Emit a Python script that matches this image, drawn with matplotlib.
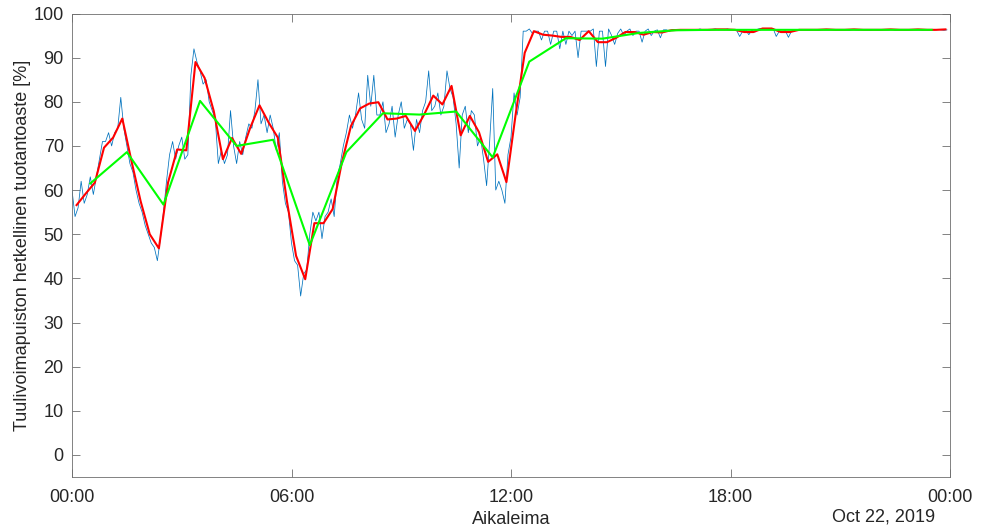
import numpy as np
import pandas as pd
import matplotlib
matplotlib.use("Agg")
import matplotlib.pyplot as plt

plt.rcParams["font.family"] = ["Liberation Sans", "DejaVu Sans"]

# Instantaneous production ratio, 5-minute samples (one row per hour)
blue_rows = [
    [60, 54, 56, 62, 57, 59, 63, 59, 63, 67, 71, 71],
    [73, 70, 73, 74, 81, 74, 70, 66, 64, 60, 57, 55],
    [52, 50, 48, 47, 44, 49, 55, 62, 68, 71, 67, 70],
    [72, 67, 68, 86, 92, 89, 87, 84, 85, 80, 78, 76],
    [66, 69, 66, 68, 78, 70, 66, 71, 68, 72, 75, 74],
    [78, 85, 75, 77, 73, 77, 74, 69, 73, 62, 57, 55],
    [48, 44, 43, 36, 41, 42, 50, 55, 53, 55, 49, 54],
    [55, 58, 54, 63, 66, 70, 73, 77, 74, 77, 82, 76],
    [74, 86, 79, 86, 77, 77, 80, 73, 75, 79, 72, 77],
    [80, 74, 76, 75, 69, 76, 73, 78, 80, 87, 78, 79],
    [82, 77, 79, 87, 83, 81, 75, 65, 77, 79, 73, 78],
    [77, 70, 72, 67, 61, 71, 83, 60, 62, 60, 57, 68],
    [72, 82, 77, 81, 96, 96, 96.5, 95.5, 96, 96, 94, 96],
    [96, 93, 96, 96, 92, 96, 93, 96, 95, 96, 90, 96],
    [96, 96, 96, 96.5, 88, 96, 96, 88, 96.5, 95, 93, 95.5],
    [96.5, 95, 96, 96.5, 95, 96, 96, 93.5, 96, 96.5, 95, 96],
    [96.3, 94.5, 96.3, 96.3, 96.0, 96.4, 96.3, 96.2, 96.4, 96.3, 96.4, 96.2],
    [96.4, 96.3, 96.5, 96.3, 96.4, 96.2, 96.4, 96.5, 96.3, 96.4, 96.3, 96.5],
    [96.3, 96.4, 96.2, 94.8, 96.0, 96.3, 95.2, 96.2, 95.8, 96.5, 96.6, 96.6],
    [96.6, 96.5, 96.6, 94.8, 96.0, 95.9, 96.1, 94.6, 96.0, 96.3, 96.4, 96.3],
    [96.4, 96.3, 96.3, 96.4, 96.3, 96.2, 96.4, 96.3, 96.3, 96.4, 96.3, 96.3],
    [96.3, 96.4, 96.3, 96.2, 96.4, 96.3, 96.3, 96.4, 96.3, 96.3, 96.2, 96.4],
    [96.3, 96.3, 96.4, 96.3, 96.3, 96.4, 96.2, 96.3, 96.4, 96.3, 96.3, 96.4],
    [96.4, 96.3, 96.3, 96.2, 96.3, 96.4, 96.3, 96.3, 96.4, 96.3, 96.2, 96.3],
]
blue_vals = np.concatenate([np.array(r, dtype=float) for r in blue_rows])

# 15-minute averages
red_vals = np.array([
    56.6, 59.2, 61.7, 69.6, 71.9, 76.2, 66.6, 57.5, 50.0, 46.8, 61.7, 69.2, 69.0, 89.0, 85.4, 77.9,
    67.0, 71.8, 68.2, 74.2, 79.2, 75.3, 71.9, 57.5, 45.1, 39.8, 52.5, 52.5, 55.7, 66.2, 74.5, 78.5,
    79.6, 79.9, 76.0, 76.2, 76.8, 73.4, 77.1, 81.4, 79.4, 83.6, 72.4, 76.8, 73.1, 66.4, 68.1, 61.8,
    77.0, 91.1, 96.0, 95.2, 95.0, 94.7, 94.7, 94.0, 96.0, 93.5, 93.5, 94.5, 95.8, 95.8, 95.2, 95.8,
    95.7, 96.2, 96.3, 96.3, 96.3, 96.3, 96.4, 96.4, 96.3, 95.8, 95.8, 96.6, 96.6, 95.8, 95.8, 96.3,
    96.3, 96.3, 96.4, 96.3, 96.3, 96.4, 96.3, 96.3, 96.3, 96.4, 96.3, 96.3, 96.4, 96.3, 96.3, 96.4,
])

# Hourly averages
green_vals = np.array([
    61.5, 68.6, 56.7, 80.2, 70.0, 71.4, 47.5, 68.6, 77.4, 77.1, 77.8, 67.4,
    89.1, 94.4, 94.3, 95.6, 96.2, 96.3, 96.3, 96.3, 96.3, 96.3, 96.3, 96.3,
])

y_ticks = list(range(0, 101, 10))
x_tick_labels = ["00:00", "06:00", "12:00", "18:00", "00:00"]

day_start = pd.Timestamp("2019-10-21 00:00")
day_end = day_start + pd.Timedelta(hours=24)
t_blue = day_start + pd.to_timedelta(np.arange(len(blue_vals)) * 5, unit="min")
t_red = day_start + pd.to_timedelta(7.5 + 15 * np.arange(len(red_vals)), unit="min")
t_green = day_start + pd.to_timedelta(30 + 60 * np.arange(len(green_vals)), unit="min")

text_col = "#262626"
axis_col = "#6e6e6e"
fig = plt.figure(figsize=(9.81, 5.28), dpi=100)
ax = fig.add_axes([72 / 981, 1 - 477 / 528, 878 / 981, (477 - 13.5) / 528])

ax.plot(t_blue, blue_vals, color="#0072BD", lw=0.55)
ax.plot(t_red, red_vals, color="#FF0000", lw=1.5)
ax.plot(t_green, green_vals, color="#00FF00", lw=1.5)

ax.set_xlim(day_start, day_end)
ax.set_ylim(-5, 100)
ax.set_yticks(y_ticks)
xt = [day_start + pd.Timedelta(hours=h) for h in (0, 6, 12, 18, 24)]
ax.set_xticks(xt)
ax.set_xticklabels(x_tick_labels)

for s in ax.spines.values():
    s.set_color(axis_col)
    s.set_linewidth(0.6)
ax.tick_params(direction="in", length=6, width=0.6, color=axis_col,
               labelcolor=text_col, labelsize=13, top=True, right=True)
ax.tick_params(axis="x", pad=9)
ax.tick_params(axis="y", pad=6)

ax.set_ylabel("Tuulivoimapuiston hetkellinen tuotantoaste [%]", fontsize=13,
              color=text_col, labelpad=2)
ax.set_xlabel("Aikaleima", fontsize=13, color=text_col, labelpad=3)
fig.text(935 / 981, 1 - 517 / 528, "Oct 22, 2019", ha="right", va="center",
         fontsize=13, color=text_col)

fig.savefig("out.png", dpi=100)
